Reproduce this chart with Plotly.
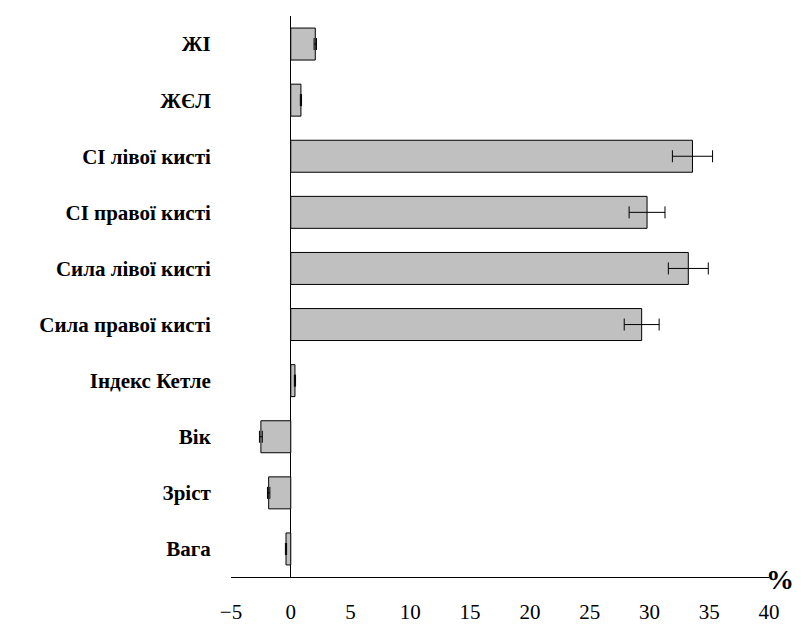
import plotly.graph_objects as go

# Indicators (bottom to top) and their percentage change with error margins
categories = ["Вага", "Зріст", "Вік", "Індекс Кетле", "Сила правої кисті",
              "Сила лівої кисті", "СІ правої кисті", "СІ лівої кисті", "ЖЄЛ", "ЖІ"]
values = [-0.4, -1.85, -2.5, 0.35, 29.35, 33.25, 29.8, 33.6, 0.85, 2.05]
errors = [0.05, 0.1, 0.12, 0.05, 1.46, 1.67, 1.5, 1.68, 0.05, 0.1]
x_ticks = [-5, 0, 5, 10, 15, 20, 25, 30, 35, 40]

serif = "Liberation Serif"

L, R, T, B, W, H = 231, 43, 16, 49, 812, 626

fig = go.Figure(go.Bar(
    x=values,
    y=categories,
    orientation="h",
    marker=dict(color="#c0c0c0", line=dict(color="black", width=1)),
    error_x=dict(type="data", array=errors, visible=True,
                 color="black", thickness=1, width=6),
    width=0.57,
))

fig.update_layout(
    width=W, height=H,
    margin=dict(l=L, r=R, t=T, b=B, autoexpand=False),
    plot_bgcolor="white", paper_bgcolor="white",
    showlegend=False,
    xaxis=dict(
        range=[-5, 40], tickvals=x_ticks,
        showgrid=False, showline=True, linecolor="black", linewidth=1,
        zeroline=True, zerolinecolor="black", zerolinewidth=1,
        ticks="outside", ticklen=16, tickcolor="rgba(0,0,0,0)", automargin=False,
        tickfont=dict(family=serif, size=21, color="black"),
    ),
    yaxis=dict(
        categoryorder="array", categoryarray=categories,
        range=[-0.5, 9.5],
        showgrid=False, showline=False, zeroline=False,
        ticks="outside", ticklen=15, tickcolor="rgba(0,0,0,0)", automargin=False,
        tickfont=dict(family=serif, size=21, color="black", weight="bold"),
    ),
    annotations=[dict(
        text="<b>%</b>", showarrow=False,
        xref="paper", yref="paper",
        x=(796 - L) / (W - L - R), y=(H - B - 597) / (H - T - B),
        font=dict(family=serif, size=28, color="black"),
    )],
)

fig.write_html("out.html")
